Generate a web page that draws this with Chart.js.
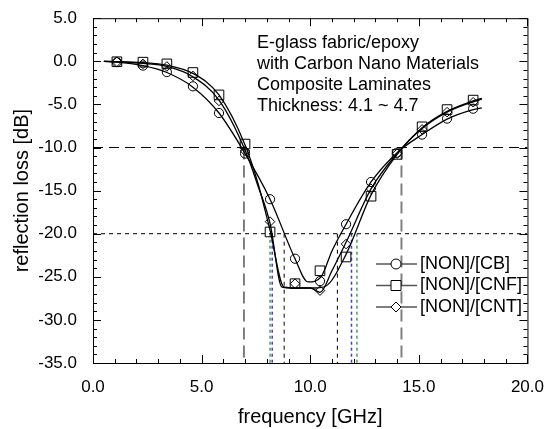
<!DOCTYPE html>
<html>
<head>
<meta charset="utf-8">
<script src="https://cdn.jsdelivr.net/npm/chart.js@4/dist/chart.umd.min.js"></script>
<style>
  html, body { margin: 0; padding: 0; background: #fff; }
</style>
</head>
<body>
<canvas id="rl-chart" width="550" height="429"></canvas>
<script>
const ctx = document.getElementById("rl-chart").getContext("2d");

// measured points (GHz / dB)
const freqs = [1.1, 2.3, 3.4, 4.6, 5.8, 7.0, 8.15, 9.3, 10.45, 11.65, 12.8, 14.0, 15.15, 16.3, 17.5];
const lossCB = [-0.1, -0.5, -1.25, -2.9, -6.0, -10.7, -16.0, -22.9, -25.5, -18.9, -14.0, -10.6, -8.5, -6.65, -5.5];
const lossCNF = [-0.05, -0.1, -0.3, -1.3, -3.9, -9.6, -19.8, -25.8, -24.3, -22.7, -15.65, -10.8, -7.6, -5.6, -4.5];
const lossCNT = [-0.05, -0.3, -0.6, -1.7, -4.6, -10.4, -18.6, -25.8, -26.6, -21.2, -14.8, -10.7, -7.9, -5.9, -4.75];

// fitted curves
const fitFreqCB = [0.5, 1.1, 2.3, 3.4, 4.6, 5.8, 7.0, 8.15, 9.3, 9.9, 10.5, 11.0, 11.65, 12.8, 14.0, 15.15, 16.3, 17.5, 17.9];
const fitCB = [0, -0.1, -0.5, -1.3, -3.0, -6.0, -10.7, -16.0, -22.9, -25.6, -25.0, -22.0, -18.9, -14.0, -10.6, -8.5, -6.7, -5.6, -5.4];
const fitFreqCNF = [0.5, 1.1, 2.3, 3.4, 4.6, 5.8, 7.0, 7.6, 8.15, 8.8, 9.5, 10.2, 10.7, 11.65, 12.8, 14.0, 15.15, 16.3, 17.5, 17.9];
const fitCNF = [0, -0.05, -0.15, -0.45, -1.4, -3.9, -9.7, -14.2, -19.6, -26.2, -26.3, -26.3, -26.1, -22.4, -15.5, -10.8, -7.7, -5.8, -4.6, -4.3];
const fitFreqCNT = [0.5, 1.1, 2.3, 3.4, 4.6, 5.8, 7.0, 7.6, 8.15, 8.7, 9.3, 10.0, 10.45, 11.0, 11.65, 12.8, 14.0, 15.15, 16.3, 17.5, 17.9];
const fitCNT = [0, -0.05, -0.25, -0.6, -1.8, -4.5, -10.3, -14.5, -18.8, -26.2, -26.3, -26.3, -26.8, -24.3, -21.0, -14.8, -10.7, -7.8, -5.9, -4.7, -4.4];

// guide lines
const guideLong = -10;
const guideShort = -20;
const longDashFreqs = [6.95];
const grayDashFreqs = [14.2];
const shortDashFreqs = [8.8, 11.25];
const blueDotFreqs = [8.25, 11.9];
const greenDotFreqs = [8.15, 12.15];

const seriesNames = ["[NON]/[CB]", "[NON]/[CNF]", "[NON]/[CNT]"];
const noteLines = ["E-glass fabric/epoxy", "with Carbon Nano Materials", "Composite Laminates", "Thickness: 4.1 ~ 4.7"];

const FONT = "'Liberation Sans', Arial, sans-serif";

const pts = (xs, ys) => xs.map((x, i) => ({ x: x, y: ys[i] }));

function guide(data, color, dash, width) {
    return {
        data: data,
        borderColor: color,
        borderWidth: width || 1,
        borderDash: dash,
        pointRadius: 0,
        tension: 0,
        fill: false
    };
}

function vGuides(list, from, color, dash, width) {
    return list.map(f => guide([{ x: f, y: from }, { x: f, y: -35 }], color, dash, width));
}

function markers(ys, style, radius) {
    return {
        data: pts(freqs, ys),
        showLine: false,
        pointStyle: style,
        pointRadius: radius,
        pointBackgroundColor: "rgba(0,0,0,0)",
        pointBorderColor: "#000",
        pointBorderWidth: 1
    };
}

function curve(xs, ys) {
    return {
        data: pts(xs, ys),
        borderColor: "#000",
        borderWidth: 1.3,
        pointRadius: 0,
        cubicInterpolationMode: "monotone",
        fill: false
    };
}

const datasets = [
    markers(lossCB, "circle", 4.6),
    markers(lossCNF, "rect", 6.8),
    markers(lossCNT, "rectRot", 4.8),
    curve(fitFreqCB, fitCB),
    curve(fitFreqCNF, fitCNF),
    curve(fitFreqCNT, fitCNT),
    guide([{ x: 0, y: guideLong }, { x: 20, y: guideLong }], "#000", [10, 6]),
    guide([{ x: 0, y: guideShort }, { x: 20, y: guideShort }], "#000", [4, 4]),
    ...vGuides(longDashFreqs, guideLong, "#000", [12, 6]),
    ...vGuides(grayDashFreqs, guideLong, "#808080", [12, 6], 2),
    ...vGuides(shortDashFreqs, guideShort, "#000", [4, 4]),
    ...vGuides(blueDotFreqs, guideShort, "#3c3cd2", [3, 3], 1.5),
    ...vGuides(greenDotFreqs, guideShort, "#4c9a5c", [3, 3], 1.5)
];

const framePlugin = {
    id: "frame",
    afterDraw(chart) {
        const c = chart.ctx;
        const a = chart.chartArea;
        const xs = chart.scales.x;
        const ys = chart.scales.y;
        c.save();
        c.strokeStyle = "#000";
        c.lineWidth = 1;
        c.strokeRect(a.left + 0.5, a.top + 0.5, a.right - a.left, a.bottom - a.top);
        c.beginPath();
        for (let v = 0; v <= 20; v++) {
            const px = Math.round(xs.getPixelForValue(v)) + 0.5;
            const len = v % 5 === 0 ? 8 : 4;
            c.moveTo(px, a.bottom); c.lineTo(px, a.bottom - len);
            c.moveTo(px, a.top); c.lineTo(px, a.top + len);
        }
        for (let v = -35; v <= 5; v++) {
            const py = Math.round(ys.getPixelForValue(v)) + 0.5;
            const len = v % 5 === 0 ? 8 : 4;
            c.moveTo(a.left, py); c.lineTo(a.left + len, py);
            c.moveTo(a.right, py); c.lineTo(a.right - len, py);
        }
        c.stroke();

        // note text
        c.fillStyle = "#000";
        c.font = "18px " + FONT;
        c.textBaseline = "middle";
        c.textAlign = "left";
        noteLines.forEach((t, i) => c.fillText(t, 257, 43 + 21 * i));

        // legend
        seriesNames.forEach((name, i) => {
            const y = 264 + 21.5 * i;
            c.strokeStyle = "#555";
            c.lineWidth = 1.5;
            c.beginPath();
            c.moveTo(376, y); c.lineTo(417, y);
            c.stroke();
            c.strokeStyle = "#000";
            c.lineWidth = 1;
            c.fillStyle = "#fff";
            const cx = 396;
            c.beginPath();
            if (i === 0) {
                c.arc(cx, y, 5, 0, Math.PI * 2);
            } else if (i === 1) {
                c.rect(cx - 5, y - 5, 10, 10);
            } else {
                c.moveTo(cx - 5, y); c.lineTo(cx, y - 5); c.lineTo(cx + 5, y); c.lineTo(cx, y + 5); c.closePath();
            }
            c.fill();
            c.stroke();
            c.fillStyle = "#000";
            c.font = "18px " + FONT;
            c.fillText(name, 420, y);
        });
        c.restore();
    }
};

const config = {
    type: "line",
    data: { datasets: datasets },
    options: {
        responsive: false,
        animation: false,
        layout: { padding: { left: 0, top: 13, right: 19, bottom: 0 } },
        plugins: {
            legend: { display: false },
            tooltip: { enabled: false }
        },
        scales: {
            x: {
                type: "linear",
                min: 0,
                max: 20,
                afterFit: s => { s.height = 66; },
                grid: { display: false },
                border: { display: false },
                ticks: {
                    stepSize: 5,
                    padding: 6,
                    color: "#000",
                    font: { family: FONT, size: 17 },
                    callback: v => v.toFixed(1)
                },
                title: {
                    display: true,
                    text: "frequency [GHz]",
                    color: "#000",
                    padding: { top: 5, bottom: 0 },
                    font: { family: FONT, size: 20 }
                }
            },
            y: {
                type: "linear",
                min: -35,
                max: 5,
                afterFit: s => { s.width = 93; },
                grid: { display: false },
                border: { display: false },
                ticks: {
                    stepSize: 5,
                    padding: 8,
                    color: "#000",
                    font: { family: FONT, size: 17 },
                    callback: v => v.toFixed(1)
                },
                title: {
                    display: true,
                    text: "reflection loss [dB]",
                    color: "#000",
                    padding: { top: 10, bottom: 0 },
                    font: { family: FONT, size: 20 }
                }
            }
        }
    },
    plugins: [framePlugin]
};

const rl_chart = new Chart(ctx, config);
</script>
</body>
</html>
